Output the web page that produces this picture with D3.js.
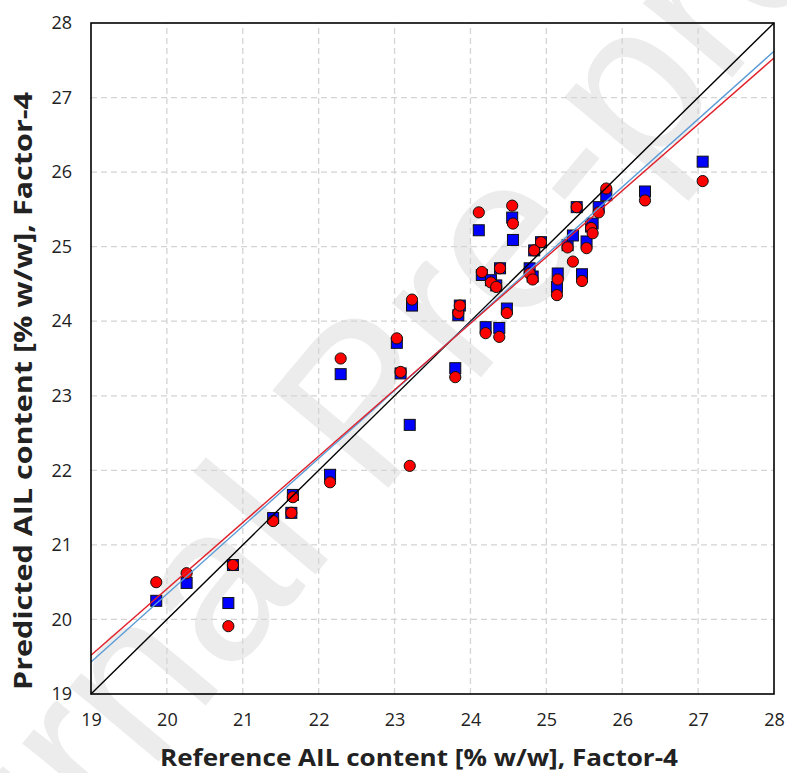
<!DOCTYPE html>
<html>
<head>
<meta charset="utf-8">
<script src="https://cdn.jsdelivr.net/npm/d3@7"></script>
<style>
  body { margin: 0; background: #fff; }
  text { font-family: "Open Sans", Lato, sans-serif; }
</style>
</head>
<body>
<div id="chart"></div>
<script>
// reference values (x) and two model predictions
const reference = [19.86, 20.26, 20.81, 20.87, 21.40, 21.64, 21.66, 22.15, 22.29, 23.03,
  23.08, 23.20, 23.23, 23.80, 23.84, 23.86, 24.11, 24.15, 24.20, 24.27,
  24.34, 24.38, 24.39, 24.48, 24.55, 24.56, 24.78, 24.82, 24.84, 24.93,
  25.14, 25.15, 25.28, 25.35, 25.40, 25.47, 25.53, 25.59, 25.61, 25.69,
  25.79, 26.30, 27.06];
const predSquare = [20.25, 20.49, 20.22, 20.73, 21.36, 21.43, 21.67, 21.94, 23.29, 23.71,
  23.30, 22.61, 24.21, 23.37, 24.08, 24.21, 25.22, 24.62, 23.92, 24.55,
  24.48, 23.91, 24.71, 24.17, 25.39, 25.09, 24.71, 24.60, 24.95, 25.06,
  24.46, 24.64, 25.02, 25.15, 25.53, 24.63, 25.07, 25.27, 25.31, 25.53,
  25.69, 25.74, 26.14];
const predCircle = [20.50, 20.62, 19.91, 20.73, 21.32, 21.43, 21.64, 21.84, 23.50, 23.77,
  23.32, 22.06, 24.29, 23.25, 24.11, 24.21, 25.46, 24.66, 23.84, 24.52,
  24.46, 23.79, 24.71, 24.11, 25.55, 25.31, 24.64, 24.56, 24.95, 25.06,
  24.35, 24.56, 24.99, 24.80, 25.53, 24.54, 24.98, 25.25, 25.18, 25.46,
  25.78, 25.62, 25.88];
// fitted lines: [value at 19, value at 28]
const fitSquare = [19.43, 27.62];
const fitCircle = [19.52, 27.53];
const ticks = [19, 20, 21, 22, 23, 24, 25, 26, 27, 28];

const W = 787, H = 773;
const margin = { left: 91, right: 13, top: 23, bottom: 79 };

const svg = d3.select("#chart").append("svg")
  .attr("width", W)
  .attr("height", H);

// watermark
svg.append("text")
  .attr("transform", "translate(420,450) rotate(-50)")
  .attr("text-anchor", "middle")
  .style("font-family", "'Liberation Sans', Arial, sans-serif")
  .style("font-size", "220px")
  .style("fill", "#ececec")
  .text("Journal Pre-proof");

const x = d3.scaleLinear().domain([19, 28]).range([margin.left, W - margin.right]);
const y = d3.scaleLinear().domain([19, 28]).range([H - margin.bottom, margin.top]);

const g = svg.append("g");

// grid
g.append("g").selectAll("line").data(ticks.slice(1, -1)).join("line")
  .attr("x1", d => x(d)).attr("x2", d => x(d))
  .attr("y1", y(19)).attr("y2", y(28))
  .style("stroke", "#d4d4d4").style("stroke-width", 1.3)
  .style("stroke-dasharray", "6,4");
g.append("g").selectAll("line").data(ticks.slice(1, -1)).join("line")
  .attr("y1", d => y(d)).attr("y2", d => y(d))
  .attr("x1", x(19)).attr("x2", x(28))
  .style("stroke", "#d4d4d4").style("stroke-width", 1.3)
  .style("stroke-dasharray", "6,4");

// axes (labels only)
const xAxis = g.append("g")
  .attr("transform", `translate(0,${y(19)})`)
  .call(d3.axisBottom(x).tickValues(ticks).tickSize(0).tickPadding(19).tickFormat(d3.format("d")));
const yAxis = g.append("g")
  .attr("transform", `translate(${x(19)},0)`)
  .call(d3.axisLeft(y).tickValues(ticks).tickSize(0).tickPadding(19).tickFormat(d3.format("d")));
[xAxis, yAxis].forEach(a => {
  a.select(".domain").remove();
  a.selectAll("text").style("font-family", "'Open Sans', sans-serif").style("font-size", "18px").style("fill", "#222");
});

// markers
const pts = reference.map((r, i) => ({ r, s: predSquare[i], c: predCircle[i] }));
const side = 11;
g.append("g").selectAll("rect").data(pts).join("rect")
  .attr("x", d => x(d.r) - side / 2)
  .attr("y", d => y(d.s) - side / 2)
  .attr("width", side).attr("height", side)
  .style("fill", "#0000ff").style("stroke", "#111").style("stroke-width", 1);
g.append("g").selectAll("circle").data(pts).join("circle")
  .attr("cx", d => x(d.r))
  .attr("cy", d => y(d.c))
  .attr("r", 5.6)
  .style("fill", "#ff0000").style("stroke", "#111").style("stroke-width", 1);

// identity and fitted lines
const line = d3.line().x(d => x(d[0])).y(d => y(d[1]));
g.append("path").datum([[19, 19], [28, 28]]).attr("d", line)
  .style("fill", "none").style("stroke", "#000").style("stroke-width", 1.4);
g.append("path").datum([[19, fitSquare[0]], [28, fitSquare[1]]]).attr("d", line)
  .style("fill", "none").style("stroke", "#5b9bd5").style("stroke-width", 1.4);
g.append("path").datum([[19, fitCircle[0]], [28, fitCircle[1]]]).attr("d", line)
  .style("fill", "none").style("stroke", "#e0202a").style("stroke-width", 1.4);

// frame
g.append("rect")
  .attr("x", x(19)).attr("y", y(28))
  .attr("width", x(28) - x(19)).attr("height", y(19) - y(28))
  .style("fill", "none").style("stroke", "#000").style("stroke-width", 1.6);

// titles
svg.append("text")
  .attr("x", 419)
  .attr("y", 766)
  .attr("text-anchor", "middle")
  .attr("textLength", 518).attr("lengthAdjust", "spacingAndGlyphs")
  .style("font-size", "24px").style("font-weight", "bold").style("fill", "#222")
  .text("Reference AIL content [% w/w], Factor-4");
svg.append("text")
  .attr("transform", "translate(32,391) rotate(-90)")
  .attr("text-anchor", "middle")
  .attr("textLength", 598).attr("lengthAdjust", "spacingAndGlyphs")
  .style("font-size", "25px").style("font-weight", "bold").style("fill", "#222")
  .text("Predicted AIL content [% w/w], Factor-4");
</script>
</body>
</html>
